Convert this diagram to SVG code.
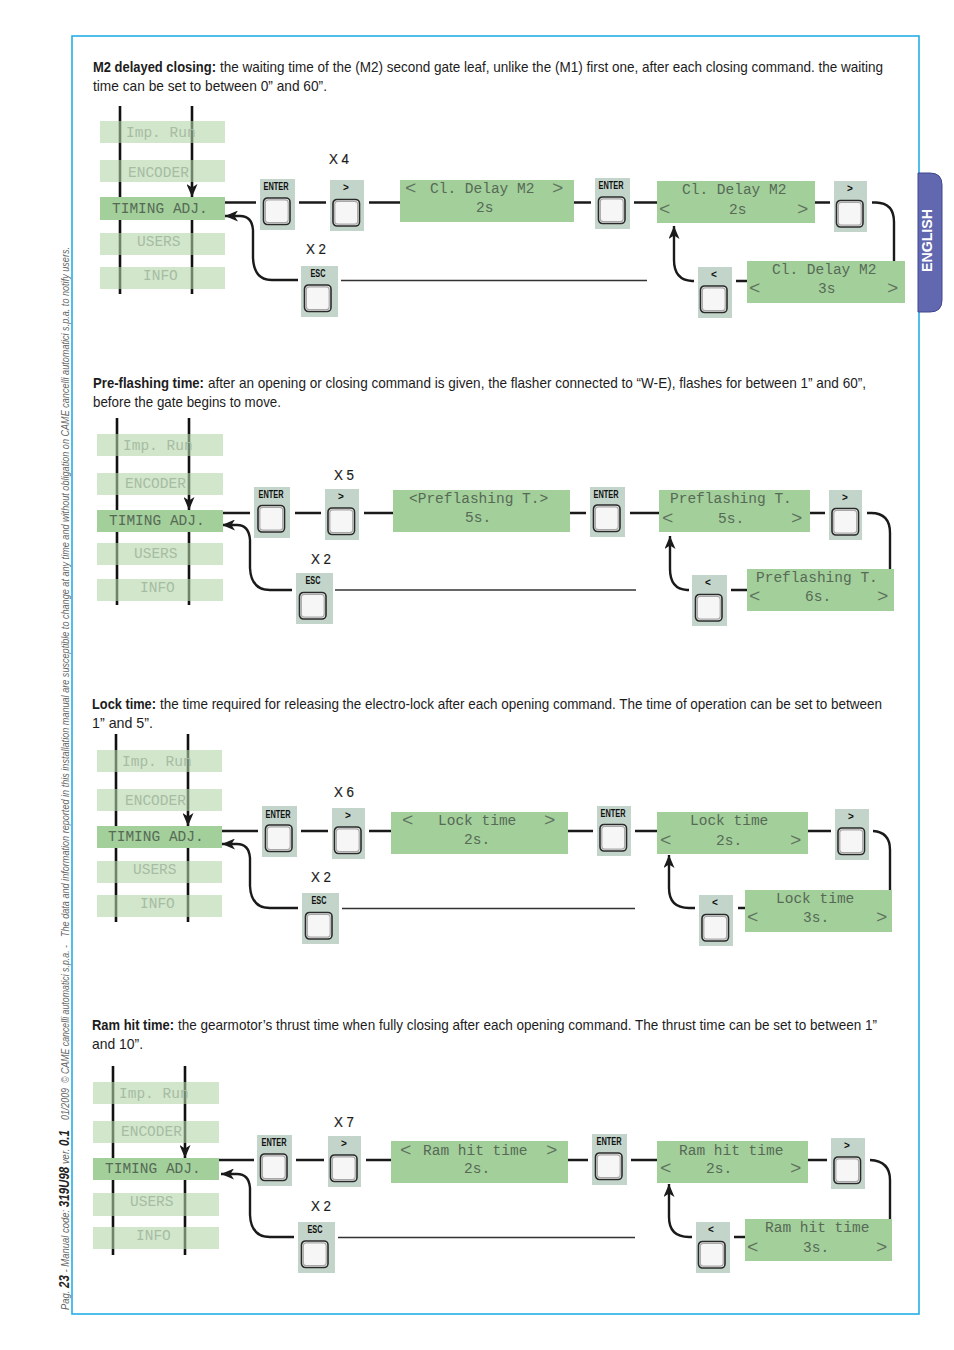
<svg xmlns="http://www.w3.org/2000/svg" xmlns:xlink="http://www.w3.org/1999/xlink" width="954" height="1350" viewBox="0 0 954 1350">
<style>
text{font-family:"Liberation Sans",Arial,sans-serif}
.body{font-size:15px;fill:#1c1c1c}
.bold{font-weight:bold}
.x{font-size:15.500px;fill:#1c1c1c;stroke:#1c1c1c;stroke-width:.2}
.side{font-size:11.500px;font-style:italic;fill:#666}
.sb{font-weight:bold;fill:#222;font-size:14px}
.lcd{font-family:"Liberation Mono","DejaVu Sans Mono",monospace;font-size:14.500px;fill:#566a56}
.dim{fill:#a6bca3}
.chev{font-family:"Liberation Mono","DejaVu Sans Mono",monospace;font-size:19px;fill:#5f735f}
.lite{fill:#b2d4a6;fill-opacity:.59}
.dark,.disp{fill:#a3cf9b}
.box{fill:#c3d5ca}
.lab{font-size:10px;font-weight:bold;fill:#111;text-anchor:middle}
.con{fill:none;stroke:#1a1a1a;stroke-width:2.400}
.thin{fill:none;stroke:#333;stroke-width:1.700}
.rail{fill:none;stroke:#111;stroke-width:2.600}
.arr{marker-end:url(#ah)}
.stub{fill:none;stroke:#666;stroke-width:1.200}
</style>
<defs>
<marker id="ah" viewBox="0 0 13 11" refX="13" refY="5.500" markerWidth="13" markerHeight="11" markerUnits="userSpaceOnUse" orient="auto"><path d="M0 0L13 5.500L0 11L3.500 5.500z" fill="#1a1a1a"/></marker>
<g id="btn"><rect x="0" y="0" width="26.500" height="26.500" rx="4" fill="#f6f6f6" stroke="#2a2a2a" stroke-width="1.600"/><rect x="1.800" y="1.800" width="22.900" height="22.900" rx="3" fill="none" stroke="#a8a8a8" stroke-width="1.200"/></g>
</defs>
<rect width="954" height="1350" fill="#fff"/>
<g id="frame"><rect x="72" y="36" width="847" height="1278" fill="none" stroke="#23aee6" stroke-width="1.600"/></g>
<g id="tab"><path d="M918 173H930Q942 173 942 185V300Q942 312 930 312H918Z" fill="#6268b0" stroke="#3f4690" stroke-width="1"/><text transform="translate(932,272) rotate(-90)" font-size="14" font-weight="bold" fill="#fff" textLength="63" lengthAdjust="spacingAndGlyphs">ENGLISH</text></g>
<g id="side-note">
<text class="side" transform="translate(69,1310) rotate(-90)" textLength="180" lengthAdjust="spacingAndGlyphs">Pag. <tspan class="sb">23</tspan>  - Manual code: <tspan class="sb">319U98</tspan> ver. <tspan class="sb">0.1</tspan></text>
<text class="side" transform="translate(69,1120) rotate(-90)" textLength="32" lengthAdjust="spacingAndGlyphs">01/2009</text>
<text class="side" transform="translate(69,1083) rotate(-90)" textLength="138" lengthAdjust="spacingAndGlyphs">© CAME cancelli automatici s.p.a. -</text>
<text class="side" transform="translate(69,937) rotate(-90)" textLength="690" lengthAdjust="spacingAndGlyphs">The data and information reported in this installation manual are susceptible to change at any time and without obligation on CAME cancelli automatici s.p.a. to notify users.</text>
</g>

<g id="captions">
<text class="body bold" x="93" y="72" textLength="123" lengthAdjust="spacingAndGlyphs">M2 delayed closing:</text>
<text class="body" x="220" y="72" textLength="663" lengthAdjust="spacingAndGlyphs">the waiting time of the (M2) second gate leaf, unlike the (M1) first one, after each closing command. the waiting</text>
<text class="body" x="93" y="91" textLength="234" lengthAdjust="spacingAndGlyphs">time can be set to between 0” and 60”.</text>
<text class="body bold" x="93" y="388" textLength="111" lengthAdjust="spacingAndGlyphs">Pre-flashing time:</text>
<text class="body" x="208" y="388" textLength="658" lengthAdjust="spacingAndGlyphs">after an opening or closing command is given, the flasher connected to “W-E), flashes for between 1” and 60”,</text>
<text class="body" x="93" y="407" textLength="188" lengthAdjust="spacingAndGlyphs">before the gate begins to move.</text>
<text class="body bold" x="92" y="709" textLength="64" lengthAdjust="spacingAndGlyphs">Lock time:</text>
<text class="body" x="160" y="709" textLength="722" lengthAdjust="spacingAndGlyphs">the time required for releasing the electro-lock after each opening command. The time of operation can be set to between</text>
<text class="body" x="92" y="728" textLength="61" lengthAdjust="spacingAndGlyphs">1” and 5”.</text>
<text class="body bold" x="92" y="1030" textLength="82" lengthAdjust="spacingAndGlyphs">Ram hit time:</text>
<text class="body" x="178" y="1030" textLength="699" lengthAdjust="spacingAndGlyphs">the gearmotor’s thrust time when fully closing after each opening command. The thrust time can be set to between 1”</text>
<text class="body" x="92" y="1049" textLength="51" lengthAdjust="spacingAndGlyphs">and 10”.</text>
</g>

<g id="connectors">
<path class="rail" d="M120 106V294"/><path class="rail arr" d="M192 106V197"/><path class="rail" d="M192 220V294"/>
<path class="con" d="M225 202.500H256M299 202.500H326M369 202.500H400M574 202.500H591M634 202.500H657M815 202.500H830M736 281H747"/>
<path class="con" d="M872 202.500H876Q894 203 894 222V261"/>
<path class="con arr" d="M694 281H692Q674 280 674 260V226"/>
<path class="con arr" d="M298 280H272Q254 280 253 258V230Q252 216 240 216H225"/>
<path class="thin" d="M341 280.500H647"/><path class="stub" d="M337 290V308"/>

<path class="rail" d="M117 418V605"/><path class="rail arr" d="M189 418V510"/><path class="rail" d="M189 532V605"/>
<path class="con" d="M223 513H250M295 513H321M364 513H393M570 513H586M630 513H659M810 513H825M731 590H747"/>
<path class="con" d="M867 513H871Q890 513 890 533V569"/>
<path class="con arr" d="M689 590H687Q670 589 670 569V536"/>
<path class="con arr" d="M292 590H270Q251 590 250 568V540Q249 525 237 525H222"/>
<path class="thin" d="M335 590H636"/><path class="stub" d="M332 598V618"/>

<path class="rail" d="M116 734V922"/><path class="rail arr" d="M188 734V826"/><path class="rail" d="M188 848V922"/>
<path class="con" d="M222 831H258M301 831H328M369 831H391M568 831H593M635 831H657M808 831H831M738 908H745"/>
<path class="con" d="M873 831Q890 832 890 850V890"/>
<path class="con arr" d="M695 908H689Q669 908 669 888V855"/>
<path class="con arr" d="M298 908H270Q251 908 250 886V858Q249 844 237 844H222"/>
<path class="thin" d="M342 908.500H635"/><path class="stub" d="M338 916V938"/>

<path class="rail" d="M113 1066V1255"/><path class="rail arr" d="M185 1066V1158"/><path class="rail" d="M185 1180V1255"/>
<path class="con" d="M219 1160H254M296 1160H324M366 1160H391M568 1160H588M631 1160H657M808 1160H827M734 1237H745"/>
<path class="con" d="M870 1160Q890 1161 890 1180V1219"/>
<path class="con arr" d="M692 1237H689Q669 1237 669 1217V1184"/>
<path class="con arr" d="M294 1237H270Q251 1237 250 1215V1188Q249 1174 237 1174H221"/>
<path class="thin" d="M338 1237.500H635"/><path class="stub" d="M334 1245V1265"/>
</g>

<g id="s1-menu">
<rect class="lite" x="100" y="121" width="125" height="22"/><text class="lcd dim" x="126" y="137">Imp. Run</text>
<rect class="lite" x="100" y="160" width="125" height="22"/><text class="lcd dim" x="128" y="177">ENCODER</text>
<rect class="dark" x="100" y="197" width="125" height="23"/><text class="lcd" x="112" y="213">TIMING ADJ.</text>
<rect class="lite" x="100" y="233" width="125" height="22"/><text class="lcd dim" x="137" y="246">USERS</text>
<rect class="lite" x="100" y="267" width="125" height="22"/><text class="lcd dim" x="143" y="280">INFO</text>
</g>
<g id="s1-enter1"><rect class="box" x="260" y="179" width="35" height="51"/><text class="lab" x="276" y="190" textLength="25" lengthAdjust="spacingAndGlyphs">ENTER</text><use xlink:href="#btn" x="263.500" y="198"/></g>
<g id="s1-next1"><rect class="box" x="330" y="180" width="34" height="51"/><text class="lab" x="346" y="191">&gt;</text><use xlink:href="#btn" x="333" y="199.500"/></g>
<g id="s1-esc"><rect class="box" x="301" y="266" width="37" height="51"/><text class="lab" x="318" y="277" textLength="15" lengthAdjust="spacingAndGlyphs">ESC</text><use xlink:href="#btn" x="304.500" y="285"/></g>
<g id="s1-d1"><rect class="disp" x="400" y="180" width="174" height="42"/><text class="chev" x="405" y="194">&lt;</text><text class="lcd" x="430" y="193">Cl. Delay M2</text><text class="chev" x="552" y="194">&gt;</text><text class="lcd" x="476" y="212">2s</text></g>
<g id="s1-enter2"><rect class="box" x="595" y="178" width="35" height="51"/><text class="lab" x="611" y="189" textLength="25" lengthAdjust="spacingAndGlyphs">ENTER</text><use xlink:href="#btn" x="598.500" y="197"/></g>
<g id="s1-d2"><rect class="disp" x="657" y="181" width="158" height="42"/><text class="lcd" x="682" y="194">Cl. Delay M2</text><text class="chev" x="659" y="215">&lt;</text><text class="lcd" x="729" y="214">2s</text><text class="chev" x="797" y="215">&gt;</text></g>
<g id="s1-next2"><rect class="box" x="834" y="181" width="33" height="51"/><text class="lab" x="850" y="192">&gt;</text><use xlink:href="#btn" x="836.500" y="200.500"/></g>
<g id="s1-d3"><rect class="disp" x="747" y="261" width="158" height="42"/><text class="lcd" x="772" y="274">Cl. Delay M2</text><text class="chev" x="749" y="294">&lt;</text><text class="lcd" x="818" y="293">3s</text><text class="chev" x="887" y="294">&gt;</text></g>
<g id="s1-prev"><rect class="box" x="698" y="267" width="34" height="51"/><text class="lab" x="714" y="278">&lt;</text><use xlink:href="#btn" x="700.500" y="286"/></g>
<text class="x" x="329" y="164" textLength="20" lengthAdjust="spacingAndGlyphs">X 4</text>
<text class="x" x="306" y="254" textLength="20" lengthAdjust="spacingAndGlyphs">X 2</text>

<g id="s2-menu">
<rect class="lite" x="97" y="434" width="126" height="22"/><text class="lcd dim" x="123" y="450">Imp. Run</text>
<rect class="lite" x="97" y="473" width="126" height="22"/><text class="lcd dim" x="125" y="488">ENCODER</text>
<rect class="dark" x="97" y="510" width="126" height="22"/><text class="lcd" x="109" y="525">TIMING ADJ.</text>
<rect class="lite" x="97" y="543" width="126" height="22"/><text class="lcd dim" x="134" y="558">USERS</text>
<rect class="lite" x="97" y="579" width="126" height="22"/><text class="lcd dim" x="140" y="592">INFO</text>
</g>
<g id="s2-enter1"><rect class="box" x="254" y="487" width="36" height="51"/><text class="lab" x="271" y="498" textLength="25" lengthAdjust="spacingAndGlyphs">ENTER</text><use xlink:href="#btn" x="258" y="505.500"/></g>
<g id="s2-next1"><rect class="box" x="325" y="489" width="34" height="51"/><text class="lab" x="341" y="500">&gt;</text><use xlink:href="#btn" x="328" y="508"/></g>
<g id="s2-esc"><rect class="box" x="296" y="573" width="37" height="51"/><text class="lab" x="313" y="584" textLength="15" lengthAdjust="spacingAndGlyphs">ESC</text><use xlink:href="#btn" x="299.500" y="592.500"/></g>
<g id="s2-d1"><rect class="disp" x="393" y="490" width="177" height="42"/><text class="lcd" x="409" y="503">&lt;Preflashing T.&gt;</text><text class="lcd" x="465" y="522">5s.</text></g>
<g id="s2-enter2"><rect class="box" x="590" y="487" width="35" height="50"/><text class="lab" x="606" y="498" textLength="25" lengthAdjust="spacingAndGlyphs">ENTER</text><use xlink:href="#btn" x="593.500" y="505"/></g>
<g id="s2-d2"><rect class="disp" x="659" y="490" width="151" height="42"/><text class="lcd" x="670" y="503">Preflashing T.</text><text class="chev" x="662" y="524">&lt;</text><text class="lcd" x="718" y="523">5s.</text><text class="chev" x="791" y="524">&gt;</text></g>
<g id="s2-next2"><rect class="box" x="829" y="490" width="33" height="50"/><text class="lab" x="845" y="501">&gt;</text><use xlink:href="#btn" x="832" y="508.500"/></g>
<g id="s2-d3"><rect class="disp" x="747" y="569" width="147" height="42"/><text class="lcd" x="756" y="582">Preflashing T.</text><text class="chev" x="749" y="602">&lt;</text><text class="lcd" x="805" y="601">6s.</text><text class="chev" x="877" y="602">&gt;</text></g>
<g id="s2-prev"><rect class="box" x="692" y="575" width="35" height="51"/><text class="lab" x="708" y="586">&lt;</text><use xlink:href="#btn" x="695.500" y="594.500"/></g>
<text class="x" x="334" y="480" textLength="20" lengthAdjust="spacingAndGlyphs">X 5</text>
<text class="x" x="311" y="564" textLength="20" lengthAdjust="spacingAndGlyphs">X 2</text>

<g id="s3-menu">
<rect class="lite" x="97" y="750" width="125" height="22"/><text class="lcd dim" x="122" y="766">Imp. Run</text>
<rect class="lite" x="97" y="789" width="125" height="22"/><text class="lcd dim" x="125" y="805">ENCODER</text>
<rect class="dark" x="97" y="826" width="125" height="22"/><text class="lcd" x="108" y="841">TIMING ADJ.</text>
<rect class="lite" x="97" y="861" width="125" height="22"/><text class="lcd dim" x="133" y="874">USERS</text>
<rect class="lite" x="97" y="895" width="125" height="22"/><text class="lcd dim" x="140" y="908">INFO</text>
</g>
<g id="s3-enter1"><rect class="box" x="262" y="806" width="35" height="51"/><text class="lab" x="278" y="818" textLength="25" lengthAdjust="spacingAndGlyphs">ENTER</text><use xlink:href="#btn" x="265.500" y="825"/></g>
<g id="s3-next1"><rect class="box" x="332" y="808" width="33" height="51"/><text class="lab" x="348" y="819">&gt;</text><use xlink:href="#btn" x="334.500" y="827"/></g>
<g id="s3-esc"><rect class="box" x="302" y="893" width="37" height="51"/><text class="lab" x="319" y="904" textLength="15" lengthAdjust="spacingAndGlyphs">ESC</text><use xlink:href="#btn" x="305.500" y="912.500"/></g>
<g id="s3-d1"><rect class="disp" x="391" y="812" width="177" height="42"/><text class="chev" x="402" y="826">&lt;</text><text class="lcd" x="438" y="825">Lock time</text><text class="chev" x="544" y="826">&gt;</text><text class="lcd" x="464" y="844">2s.</text></g>
<g id="s3-enter2"><rect class="box" x="597" y="806" width="34" height="50"/><text class="lab" x="613" y="817" textLength="25" lengthAdjust="spacingAndGlyphs">ENTER</text><use xlink:href="#btn" x="600" y="824.500"/></g>
<g id="s3-d2"><rect class="disp" x="657" y="812" width="151" height="42"/><text class="lcd" x="690" y="825">Lock time</text><text class="chev" x="660" y="846">&lt;</text><text class="lcd" x="716" y="845">2s.</text><text class="chev" x="790" y="846">&gt;</text></g>
<g id="s3-next2"><rect class="box" x="835" y="809" width="34" height="51"/><text class="lab" x="851" y="820">&gt;</text><use xlink:href="#btn" x="838" y="828"/></g>
<g id="s3-d3"><rect class="disp" x="745" y="890" width="147" height="42"/><text class="lcd" x="776" y="903">Lock time</text><text class="chev" x="747" y="923">&lt;</text><text class="lcd" x="803" y="922">3s.</text><text class="chev" x="876" y="923">&gt;</text></g>
<g id="s3-prev"><rect class="box" x="699" y="895" width="34" height="51"/><text class="lab" x="715" y="906">&lt;</text><use xlink:href="#btn" x="702" y="914.500"/></g>
<text class="x" x="334" y="797" textLength="20" lengthAdjust="spacingAndGlyphs">X 6</text>
<text class="x" x="311" y="882" textLength="20" lengthAdjust="spacingAndGlyphs">X 2</text>

<g id="s4-menu">
<rect class="lite" x="93" y="1082" width="126" height="22"/><text class="lcd dim" x="119" y="1098">Imp. Run</text>
<rect class="lite" x="93" y="1121" width="126" height="22"/><text class="lcd dim" x="121" y="1136">ENCODER</text>
<rect class="dark" x="93" y="1158" width="126" height="22"/><text class="lcd" x="105" y="1173">TIMING ADJ.</text>
<rect class="lite" x="93" y="1193" width="126" height="23"/><text class="lcd dim" x="130" y="1206">USERS</text>
<rect class="lite" x="93" y="1227" width="126" height="22"/><text class="lcd dim" x="136" y="1240">INFO</text>
</g>
<g id="s4-enter1"><rect class="box" x="257" y="1135" width="35" height="51"/><text class="lab" x="274" y="1146" textLength="25" lengthAdjust="spacingAndGlyphs">ENTER</text><use xlink:href="#btn" x="260.500" y="1154"/></g>
<g id="s4-next1"><rect class="box" x="328" y="1136" width="33" height="51"/><text class="lab" x="344" y="1147">&gt;</text><use xlink:href="#btn" x="330.500" y="1155"/></g>
<g id="s4-esc"><rect class="box" x="298" y="1222" width="37" height="51"/><text class="lab" x="315" y="1233" textLength="15" lengthAdjust="spacingAndGlyphs">ESC</text><use xlink:href="#btn" x="301.500" y="1241"/></g>
<g id="s4-d1"><rect class="disp" x="391" y="1141" width="177" height="42"/><text class="chev" x="400" y="1156">&lt;</text><text class="lcd" x="423" y="1155">Ram hit time</text><text class="chev" x="546" y="1156">&gt;</text><text class="lcd" x="464" y="1173">2s.</text></g>
<g id="s4-enter2"><rect class="box" x="592" y="1134" width="35" height="51"/><text class="lab" x="609" y="1145" textLength="25" lengthAdjust="spacingAndGlyphs">ENTER</text><use xlink:href="#btn" x="595.500" y="1153"/></g>
<g id="s4-d2"><rect class="disp" x="657" y="1141" width="151" height="42"/><text class="lcd" x="679" y="1155">Ram hit time</text><text class="chev" x="660" y="1174">&lt;</text><text class="lcd" x="706" y="1173">2s.</text><text class="chev" x="790" y="1174">&gt;</text></g>
<g id="s4-next2"><rect class="box" x="831" y="1138" width="34" height="51"/><text class="lab" x="847" y="1149">&gt;</text><use xlink:href="#btn" x="834" y="1157"/></g>
<g id="s4-d3"><rect class="disp" x="745" y="1219" width="147" height="42"/><text class="lcd" x="765" y="1232">Ram hit time</text><text class="chev" x="747" y="1253">&lt;</text><text class="lcd" x="803" y="1252">3s.</text><text class="chev" x="876" y="1253">&gt;</text></g>
<g id="s4-prev"><rect class="box" x="696" y="1222" width="34" height="51"/><text class="lab" x="711" y="1233">&lt;</text><use xlink:href="#btn" x="698.500" y="1241.500"/></g>
<text class="x" x="334" y="1127" textLength="20" lengthAdjust="spacingAndGlyphs">X 7</text>
<text class="x" x="311" y="1211" textLength="20" lengthAdjust="spacingAndGlyphs">X 2</text>
</svg>
